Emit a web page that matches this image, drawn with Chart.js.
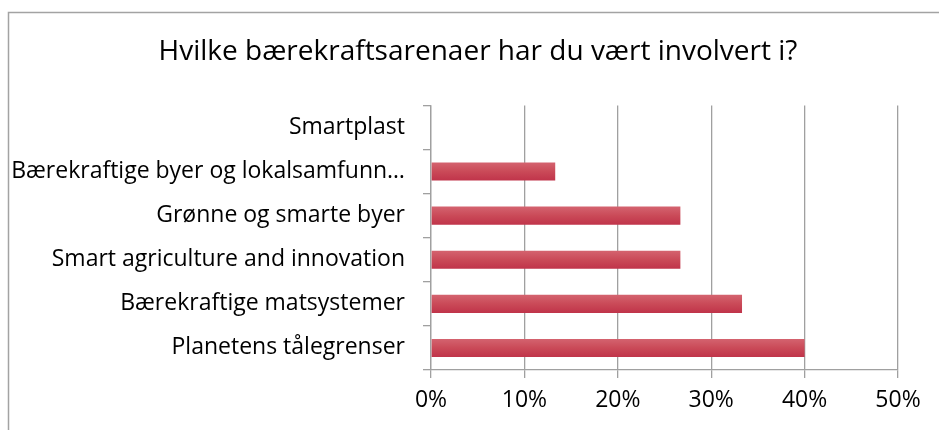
<!DOCTYPE html>
<html lang="no">
<head>
<meta charset="UTF-8">
<title>Bærekraftsarenaer</title>
<script src="https://cdn.jsdelivr.net/npm/chart.js"></script>
<style>
    html, body { margin: 0; padding: 0; background: #fff; }
    .wrap { position: relative; width: 939px; height: 430px; }
</style>
</head>
<body>
<div class="wrap"><canvas id="chart" width="939" height="430"></canvas></div>
<script>
    // data
    const titleText = 'Hvilke bærekraftsarenaer har du vært involvert i?';
    const categories = [
        'Smartplast',
        'Bærekraftige byer og lokalsamfunn…',
        'Grønne og smarte byer',
        'Smart agriculture and innovation',
        'Bærekraftige matsystemer',
        'Planetens tålegrenser'
    ];
    const shares = [0, 13.3, 26.7, 26.7, 33.3, 40];
    const xTicks = [0, 10, 20, 30, 40, 50];

    const gridGray = '#a0a0a0';
    const fontFamily = '"Open Sans", Lato, sans-serif';

    // frame drawn like the outer chart border (top and left are visible)
    const framePlugin = {
        id: 'frame',
        beforeDraw(chart) {
            const ctx = chart.ctx;
            ctx.save();
            ctx.strokeStyle = '#a3a3a3';
            ctx.lineWidth = 1.5;
            ctx.beginPath();
            ctx.moveTo(8.5, 430);
            ctx.lineTo(8.5, 12.5);
            ctx.lineTo(939, 12.5);
            ctx.stroke();
            ctx.restore();
            // title is centred on the whole frame, not just the plot
            if (chart.titleBlock) {
                chart.titleBlock.left = 17;
                chart.titleBlock.right = 939;
            }
        }
    };

    function barGradient(context) {
        const chart = context.chart;
        const yScale = chart.scales.y;
        if (!yScale) return '#c8434f';
        const c = yScale.getPixelForValue(context.dataIndex);
        if (!isFinite(c)) return '#c8434f';
        const g = chart.ctx.createLinearGradient(0, c - 9, 0, c + 9);
        g.addColorStop(0, '#d4636f');
        g.addColorStop(0.5, '#ca4a58');
        g.addColorStop(1, '#c0344a');
        return g;
    }

    new Chart(document.getElementById('chart'), {
        type: 'bar',
        data: {
            labels: categories,
            datasets: [{
                data: shares,
                backgroundColor: barGradient,
                borderWidth: 0,
                categoryPercentage: 1,
                barPercentage: 0.41
            }]
        },
        options: {
            indexAxis: 'y',
            responsive: false,
            animation: false,
            devicePixelRatio: 1,
            layout: { padding: { left: 8, right: 41, top: 0, bottom: 0 } },
            plugins: {
                legend: { display: false },
                tooltip: { enabled: false },
                title: {
                    display: true,
                    text: titleText,
                    color: '#000',
                    font: { family: fontFamily, size: 28, weight: 'normal', lineHeight: 1.3 },
                    padding: { top: 34, bottom: 35 }
                }
            },
            scales: {
                x: {
                    min: 0,
                    max: 50,
                    afterBuildTicks(scale) {
                        scale.ticks = xTicks.map(v => ({ value: v }));
                    },
                    afterFit(scale) { scale.height = 60; },
                    ticks: {
                        callback: v => v + '%',
                        color: '#000',
                        font: { family: fontFamily, size: 23 },
                        padding: 9,
                        maxRotation: 0
                    },
                    grid: {
                        color: gridGray,
                        lineWidth: 1.3,
                        tickLength: 8,
                        drawTicks: true
                    },
                    border: { color: gridGray, width: 1.3 }
                },
                y: {
                    afterFit(scale) { scale.width = 423; },
                    ticks: {
                        color: '#000',
                        font: { family: fontFamily, size: 23 },
                        padding: 18,
                        autoSkip: false
                    },
                    grid: {
                        offset: true,
                        drawOnChartArea: false,
                        color: gridGray,
                        lineWidth: 1.3,
                        tickLength: 8
                    },
                    border: { color: gridGray, width: 1.3 }
                }
            }
        },
        plugins: [framePlugin]
    });
</script>
</body>
</html>
